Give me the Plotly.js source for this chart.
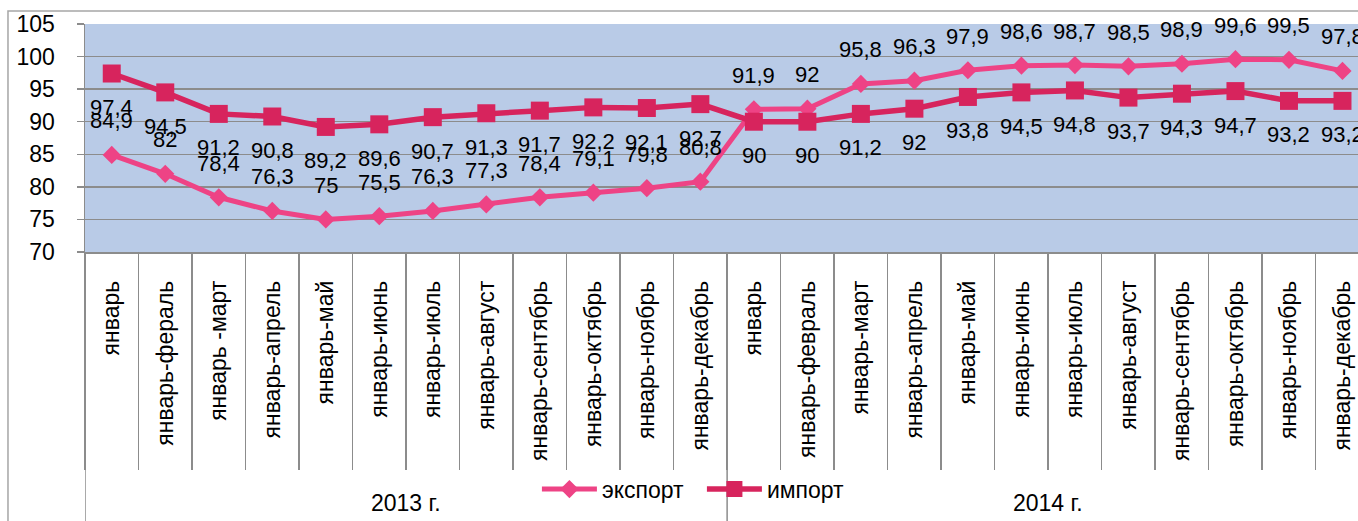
<!DOCTYPE html>
<html><head><meta charset="utf-8">
<script src="https://cdn.plot.ly/plotly-3.0.1.min.js"></script>
<style>body{margin:0;background:#fff}#chart{width:1358px;height:521px}</style>
</head><body><div id="chart"></div>
<script>
const years = ['2013 г.', '2014 г.'];
const months2013 = ['январь','январь-фераль','январь -март','январь-апрель','январь-май','январь-июнь','январь-июль','январь-август','январь-сентябрь','январь-октябрь','январь-ноябрь','январь-декабрь'];
const months2014 = ['январь','январь-февраль','январь-март','январь-апрель','январь-май','январь-июнь','январь-июль','январь-август','январь-сентябрь','январь-октябрь','январь-ноябрь','январь-декабрь'];
const export2013 = [84.9, 82, 78.4, 76.3, 75, 75.5, 76.3, 77.3, 78.4, 79.1, 79.8, 80.8];
const export2014 = [91.9, 92, 95.8, 96.3, 97.9, 98.6, 98.7, 98.5, 98.9, 99.6, 99.5, 97.8];
const import2013 = [97.4, 94.5, 91.2, 90.8, 89.2, 89.6, 90.7, 91.3, 91.7, 92.2, 92.1, 92.7];
const import2014 = [90, 90, 91.2, 92, 93.8, 94.5, 94.8, 93.7, 94.3, 94.7, 93.2, 93.2];

const groups = [months2013, months2014];
const labels = months2013.concat(months2014);
const idx = labels.map((_, i) => i);
const exportVals = export2013.concat(export2014);
const importVals = import2013.concat(import2014);
const fmt = v => String(v).replace('.', ',');

const exportColor = '#EE4385';
const importColor = '#D7245D';
const gridColor = '#8C8C8C';
const FONT = 'Liberation Sans, Arial, sans-serif';

const traces = [
  {x: idx, y: exportVals, name: 'экспорт', type: 'scatter', mode: 'lines+markers',
   line: {color: exportColor, width: 5}, marker: {symbol: 'diamond', size: 14, color: exportColor}},
  {x: idx, y: importVals, name: 'импорт', type: 'scatter', mode: 'lines+markers',
   line: {color: importColor, width: 5.5}, marker: {symbol: 'square', size: 18, color: importColor}}
];

const annotations = [];
idx.forEach(i => {
  annotations.push({x: i, y: exportVals[i], xref: 'x', yref: 'y', text: fmt(exportVals[i]), showarrow: false,
    yshift: 34, yanchor: 'middle', xanchor: 'center', font: {family: FONT, size: 22, color: '#000'}});
  annotations.push({x: i, y: importVals[i], xref: 'x', yref: 'y', text: fmt(importVals[i]), showarrow: false,
    yshift: -34, yanchor: 'middle', xanchor: 'center', font: {family: FONT, size: 22, color: '#000'}});
});

// group labels and group dividers
const shapes = [];
let start = 0;
groups.forEach((g, gi) => {
  const center = start + (g.length - 1) / 2;
  annotations.push({x: center, y: -1.10, xref: 'x', yref: 'paper', text: years[gi], showarrow: false,
    yanchor: 'middle', xanchor: 'center', font: {family: FONT, size: 23, color: '#000'}});
  shapes.push({type: 'line', xref: 'x', yref: 'paper', x0: start - 0.5, x1: start - 0.5, y0: 0, y1: -1.2,
    line: {color: gridColor, width: 1.5}});
  start += g.length;
});
shapes.push({type: 'line', xref: 'x', yref: 'paper', x0: start - 0.5, x1: start - 0.5, y0: 0, y1: -1.2,
  line: {color: gridColor, width: 1.5}});
// outer chart border
shapes.push({type: 'rect', xref: 'paper', yref: 'paper', x0: -0.0605, x1: 1.2, y0: -1.3, y1: 1.057,
  line: {color: '#A6A6A6', width: 1.5}, fillcolor: 'rgba(0,0,0,0)', layer: 'below'});

const boundaries = idx.map(i => i - 0.5);

const layout = {
  width: 1358, height: 521,
  margin: {l: 85, r: 0, t: 24, b: 269, pad: 0},
  paper_bgcolor: '#FFFFFF',
  plot_bgcolor: '#B9CBE7',
  font: {family: FONT, color: '#000'},
  showlegend: true,
  legend: {orientation: 'h', x: 0.355, xanchor: 'left', y: -1.04, yanchor: 'middle', itemwidth: 55,
    entrywidth: 95, entrywidthmode: 'pixels',
    font: {family: FONT, size: 23, color: '#000'}, bgcolor: 'rgba(0,0,0,0)'},
  xaxis: {
    range: [-0.5, 23.29],
    tickmode: 'array', tickvals: idx, ticktext: labels, tickangle: -90,
    ticks: '', showgrid: false, zeroline: false, ticklabelstandoff: 18,
    tickfont: {family: FONT, size: 23, color: '#000'},
    showline: true, linecolor: gridColor, linewidth: 1.5,
    minor: {ticks: 'outside', ticklen: 216, tickcolor: gridColor, tickwidth: 1.5,
      tickmode: 'array', tickvals: boundaries, showgrid: false}
  },
  yaxis: {
    range: [70, 105], tickmode: 'linear', tick0: 70, dtick: 5,
    showgrid: true, gridcolor: gridColor, gridwidth: 1.5,
    ticks: 'outside', ticklen: 7, tickcolor: gridColor, tickwidth: 1.5,
    showline: true, linecolor: gridColor, linewidth: 1.5,
    zeroline: false, ticklabelstandoff: 17,
    tickfont: {family: FONT, size: 23, color: '#000'}
  },
  annotations: annotations,
  shapes: shapes
};

Plotly.newPlot('chart', traces, layout, {displayModeBar: false, staticPlot: true});
</script>
</body></html>
